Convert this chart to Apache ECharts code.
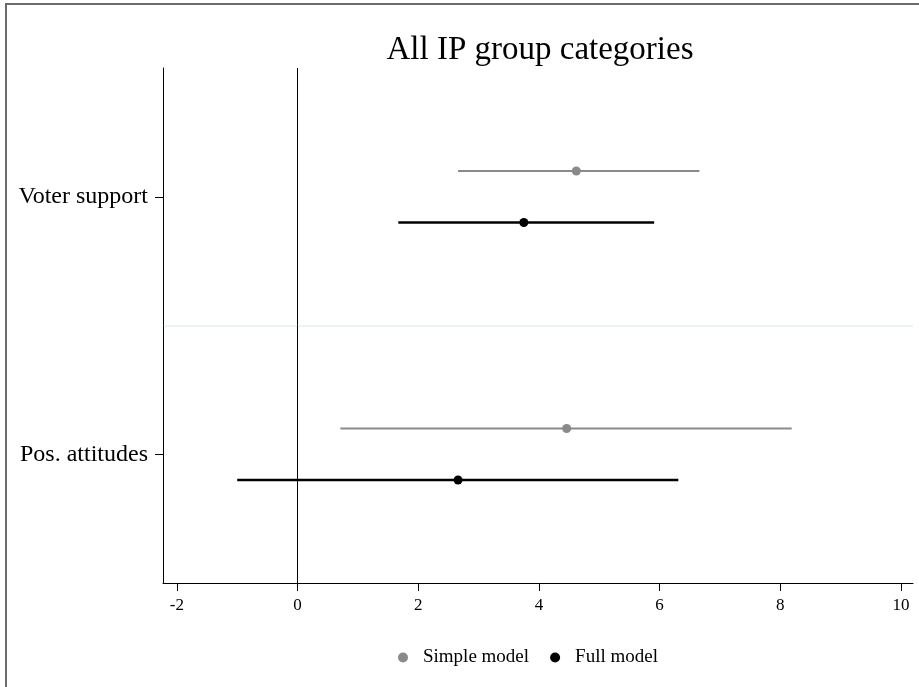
<!DOCTYPE html>
<html>
<head>
<meta charset="utf-8">
<script src="https://cdn.jsdelivr.net/npm/echarts@6/dist/echarts.min.js"></script>
<style>
  html, body { margin: 0; padding: 0; background: #fff; }
  #chart { width: 919px; height: 687px; }
</style>
</head>
<body>
<div id="chart"></div>
<script>
// categories (top to bottom)
const categories = ['Voter support', 'Pos. attitudes'];
// simple model: point estimate and interval
const simpleEst = [4.62, 4.46];
const simpleLo = [2.66, 0.71];
const simpleHi = [6.66, 8.19];
// full model
const fullEst = [3.75, 2.66];
const fullLo = [1.67, -1.0];
const fullHi = [5.91, 6.31];
// x tick labels
const xTicks = [-2, 0, 2, 4, 6, 8, 10];

const FONT = '"Liberation Serif", "DejaVu Serif", serif';

function rows(est, lo, hi) {
  return categories.map((c, i) => [i, est[i], lo[i], hi[i]]);
}

function makeRender(offset, color, width) {
  return function (params, api) {
    const cat = api.value(0);
    const c = api.coord([api.value(1), cat]);
    const lo = api.coord([api.value(2), cat]);
    const hi = api.coord([api.value(3), cat]);
    const band = api.size([0, 1])[1];
    const y = c[1] + offset * band;
    return {
      type: 'group',
      children: [
        { type: 'line', shape: { x1: lo[0], y1: y, x2: hi[0], y2: y },
          style: { stroke: color, lineWidth: width } },
        { type: 'circle', shape: { cx: c[0], cy: y, r: 4.5 },
          style: { fill: color } }
      ]
    };
  };
}

const chart = echarts.init(document.getElementById('chart'));
chart.setOption({
  animation: false,
  title: {
    text: 'All IP group categories',
    left: 535, textAlign: 'center', top: 29,
    textStyle: { fontFamily: FONT, fontSize: 33, fontWeight: 'normal', color: '#000' }
  },
  legend: {
    left: 393, top: 643,
    icon: 'circle', itemWidth: 30, itemHeight: 10, itemGap: 21,
    textStyle: { fontFamily: FONT, fontSize: 19, color: '#000' },
    data: ['Simple model', 'Full model']
  },
  grid: { left: 163, right: 6, top: 68, bottom: 104 },
  xAxis: {
    type: 'value', min: -2.23, max: 10.2,
    axisLine: { show: true, onZero: false, lineStyle: { color: '#000', width: 1 } },
    axisTick: { show: true, length: 8, lineStyle: { color: '#000' }, customValues: xTicks },
    axisLabel: { color: '#000', fontFamily: FONT, fontSize: 17, margin: 14, customValues: xTicks },
    splitLine: { show: false }
  },
  yAxis: {
    type: 'category', data: categories, inverse: true,
    axisLine: { show: true, onZero: false, lineStyle: { color: '#000', width: 1 } },
    axisTick: { show: true, length: 8, alignWithLabel: true, lineStyle: { color: '#000' } },
    axisLabel: { color: '#000', fontFamily: FONT, fontSize: 24, margin: 15 },
    splitLine: { show: true, showMinLine: false, showMaxLine: false,
                 lineStyle: { color: '#e4f1f1', width: 1.5 } }
  },
  graphic: [
    { type: 'line', shape: { x1: 6, y1: 4, x2: 919, y2: 4 }, style: { stroke: '#3a3a3a', lineWidth: 1.5 } },
    { type: 'line', shape: { x1: 6, y1: 3, x2: 6, y2: 687 }, style: { stroke: '#6a6a6a', lineWidth: 2 } }
  ],
  series: [
    {
      name: 'Simple model', type: 'custom',
      itemStyle: { color: '#8a8a8a' },
      encode: { x: [1, 2, 3], y: 0 },
      renderItem: makeRender(-0.1, '#8a8a8a', 2),
      data: rows(simpleEst, simpleLo, simpleHi),
      markLine: {
        silent: true, symbol: 'none', label: { show: false },
        lineStyle: { color: '#000', width: 1, type: 'solid' },
        data: [{ xAxis: 0 }]
      },
      z: 3
    },
    {
      name: 'Full model', type: 'custom',
      itemStyle: { color: '#000' },
      encode: { x: [1, 2, 3], y: 0 },
      renderItem: makeRender(0.1, '#000', 2.5),
      data: rows(fullEst, fullLo, fullHi),
      z: 4
    }
  ]
});
</script>
</body>
</html>
